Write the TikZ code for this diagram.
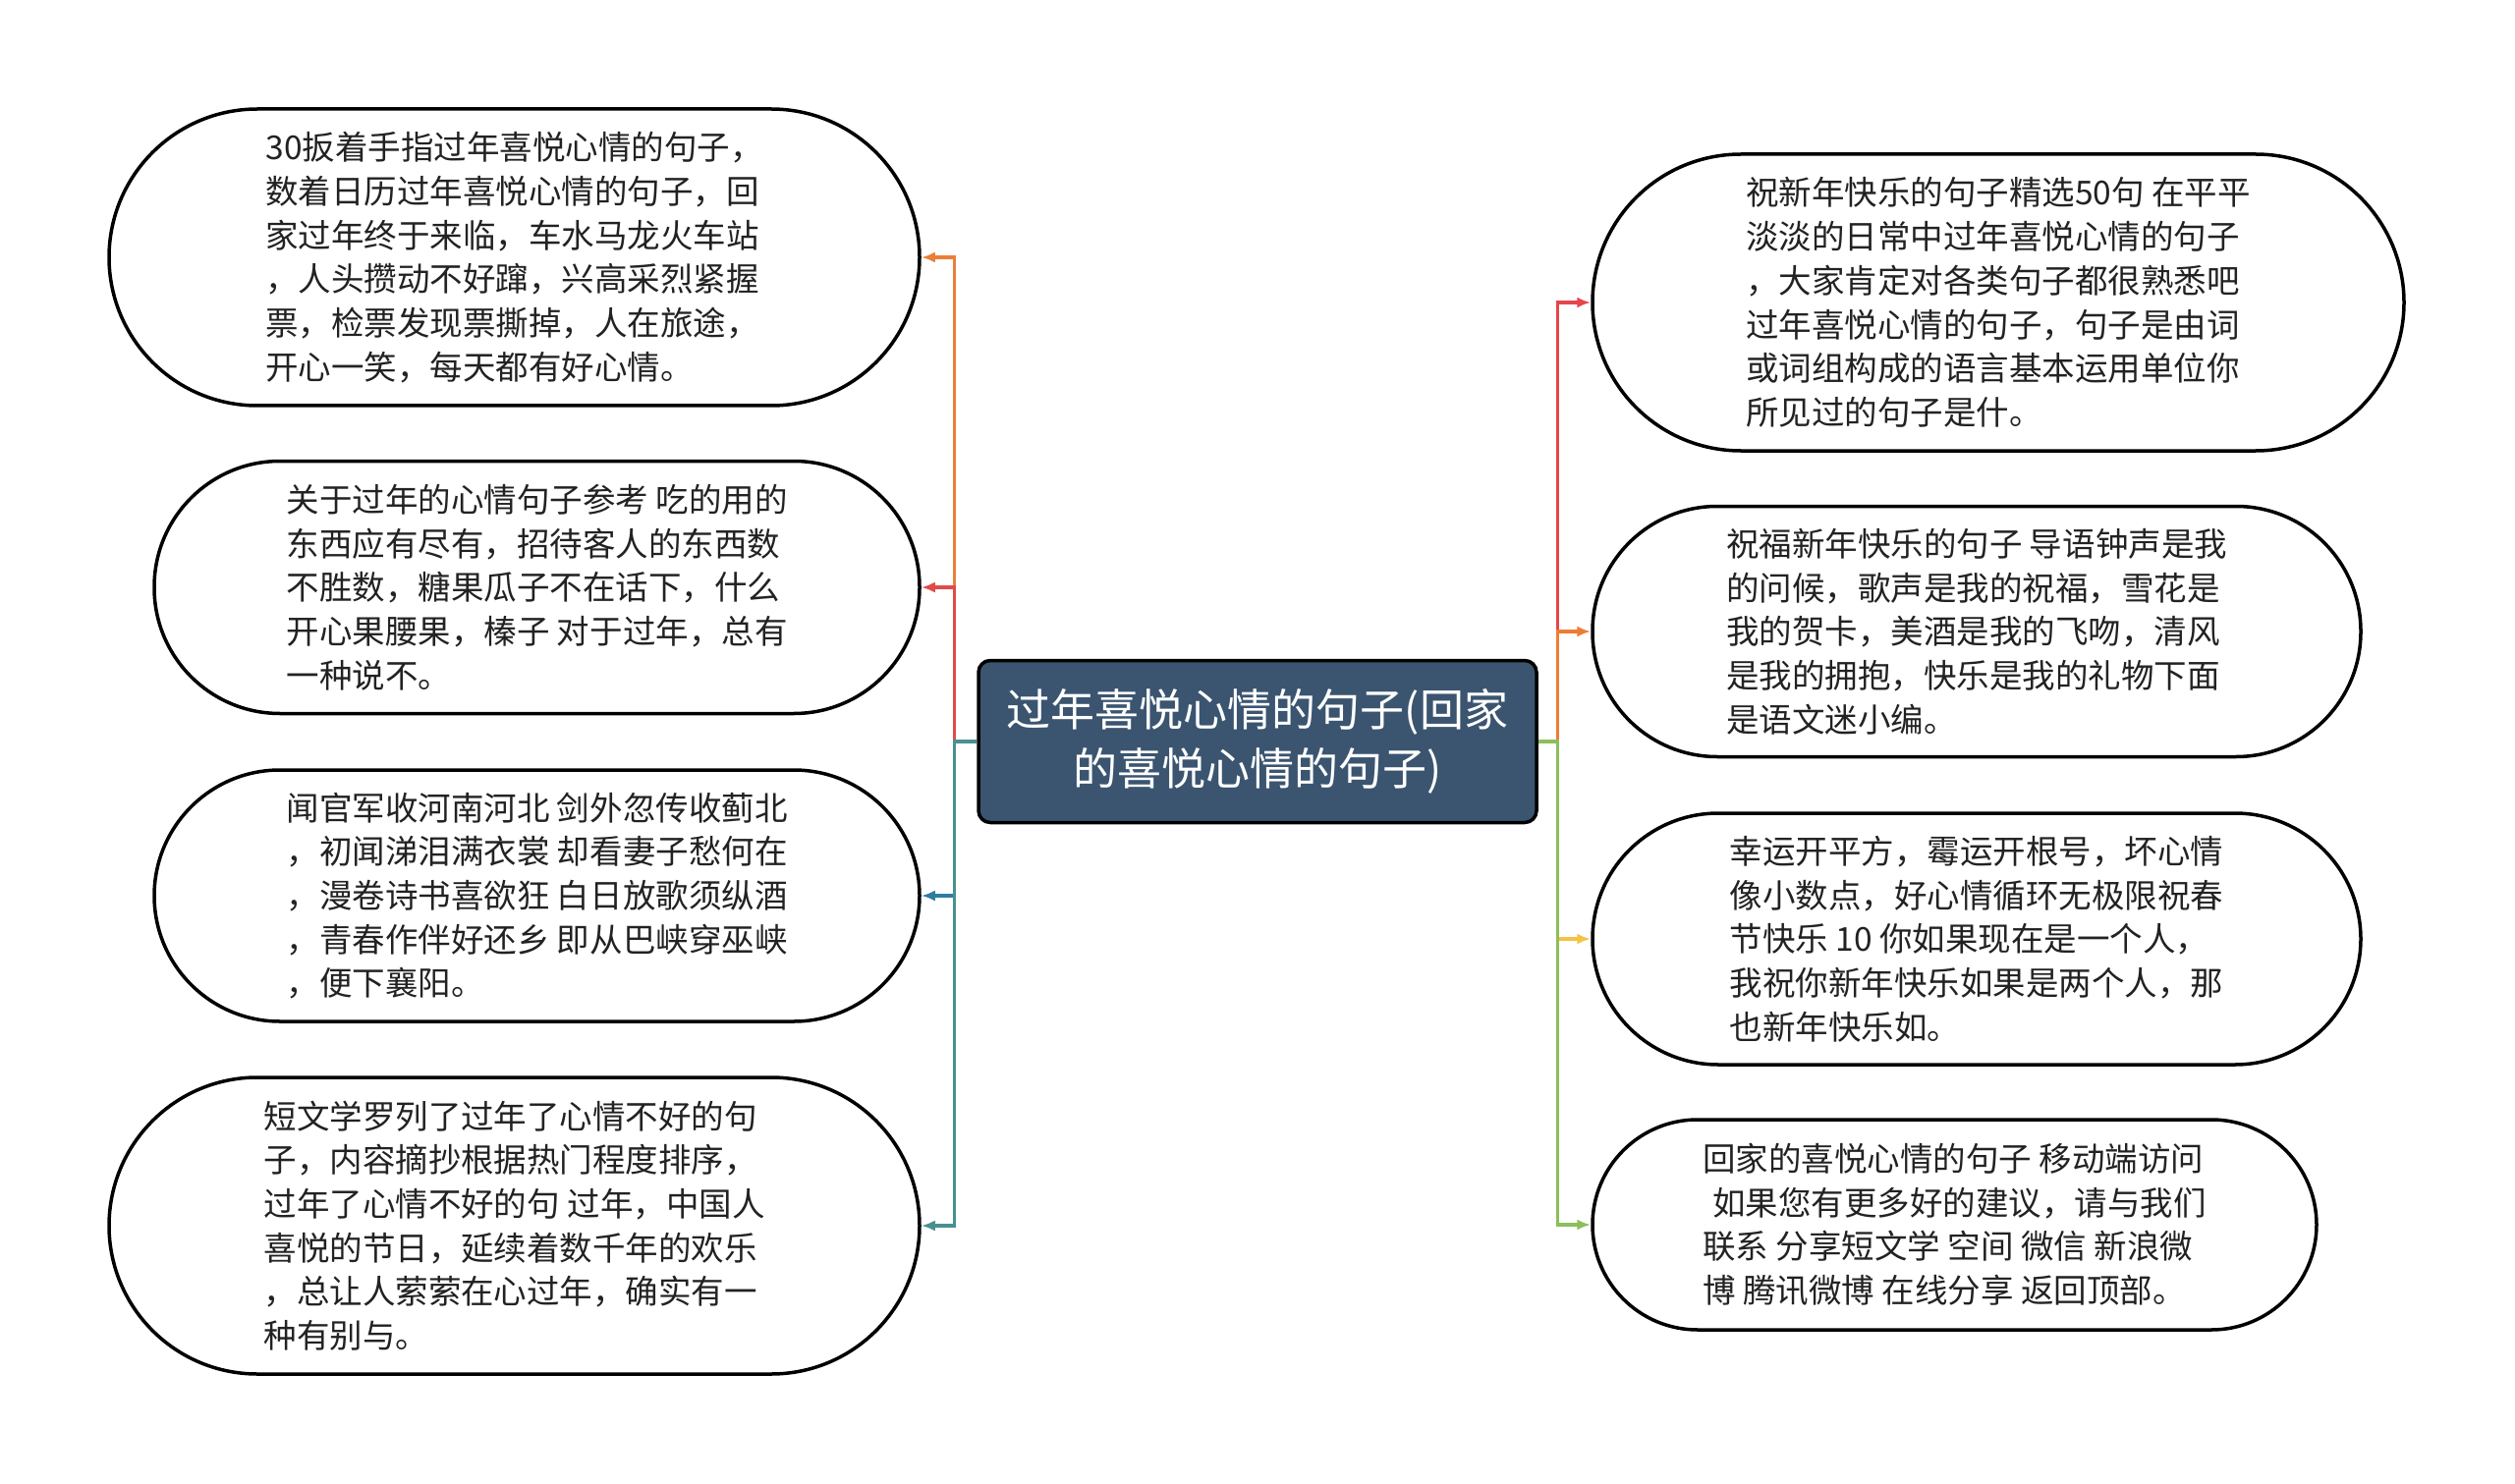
\documentclass[tikz,border=0pt]{standalone}
\usepackage{fontspec}
\setmainfont{Noto Sans CJK SC}
\usetikzlibrary{arrows.meta}
\definecolor{cOrangeL}{HTML}{E8803A}
\definecolor{cRedL}{HTML}{E04B4B}
\definecolor{cBlueL}{HTML}{2E7CA3}
\definecolor{cTealL}{HTML}{4A9090}
\definecolor{cRedR}{HTML}{E5464B}
\definecolor{cOrangeR}{HTML}{EE7D33}
\definecolor{cYellowR}{HTML}{F4C344}
\definecolor{cGreenR}{HTML}{8CBF5C}
\definecolor{cRoot}{HTML}{3B5570}
\definecolor{cText}{HTML}{222222}
\tikzset{
  leafbox/.style={draw=black, line width=3.5pt, fill=white, align=left, inner sep=0pt,
    text=cText, font=\fontsize{33.5}{44.7}\selectfont},
  rootbox/.style={draw=black, line width=3.5pt, fill=cRoot, rounded corners=12pt, align=center,
    text=white, inner sep=0pt, minimum width=568pt, minimum height=165pt,
    font=\fontsize{45}{60}\selectfont},
  conn/.style={line width=3.2pt, -{Latex[length=14pt,width=11pt]}},
  stub/.style={line width=3.2pt}
}
\begin{document}
\begin{tikzpicture}[x=1pt,y=-1pt]
\useasboundingbox (0,0) rectangle (2560,1511);
% root
\node[rootbox] (root) at (1280,755) {过年喜悦心情的句子(回家\\的喜悦心情的句子)};
% left leaves
\node[leafbox, minimum width=825pt, minimum height=302pt, rounded corners=151pt] (l1) at (523.5,262)
 {30扳着手指过年喜悦心情的句子，\\数着日历过年喜悦心情的句子，回\\家过年终于来临，车水马龙火车站\\，人头攒动不好蹿，兴高采烈紧握\\票，检票发现票撕掉，人在旅途，\\开心一笑，每天都有好心情。\hspace*{8pt}};
\node[leafbox, minimum width=779pt, minimum height=257pt, rounded corners=128pt] (l2) at (546.5,598)
 {关于过年的心情句子参考 吃的用的\\东西应有尽有，招待客人的东西数\\不胜数，糖果瓜子不在话下，什么\\开心果腰果，榛子 对于过年，总有\\一种说不。};
\node[leafbox, minimum width=779pt, minimum height=256pt, rounded corners=128pt] (l3) at (546.5,912)
 {闻官军收河南河北 剑外忽传收蓟北\\，初闻涕泪满衣裳 却看妻子愁何在\\，漫卷诗书喜欲狂 白日放歌须纵酒\\，青春作伴好还乡 即从巴峡穿巫峡\\，便下襄阳。};
\node[leafbox, minimum width=825pt, minimum height=302pt, rounded corners=151pt] (l4) at (523.5,1248)
 {短文学罗列了过年了心情不好的句\\子，内容摘抄根据热门程度排序，\\过年了心情不好的句 过年，中国人\\喜悦的节日，延续着数千年的欢乐\\，总让人萦萦在心过年，确实有一\\种有别与。};
% right leaves
\node[leafbox, minimum width=826pt, minimum height=302pt, rounded corners=151pt] (r1) at (2034,308)
 {祝新年快乐的句子精选50句 在平平\\淡淡的日常中过年喜悦心情的句子\\，大家肯定对各类句子都很熟悉吧\\过年喜悦心情的句子，句子是由词\\或词组构成的语言基本运用单位你\\所见过的句子是什。};
\node[leafbox, minimum width=782pt, minimum height=255pt, rounded corners=127pt] (r2) at (2012,643)
 {祝福新年快乐的句子 导语钟声是我\\的问候，歌声是我的祝福，雪花是\\我的贺卡，美酒是我的飞吻，清风\\是我的拥抱，快乐是我的礼物下面\\是语文迷小编。};
\node[leafbox, minimum width=782pt, minimum height=256pt, rounded corners=128pt] (r3) at (2012,956)
 {幸运开平方，霉运开根号，坏心情\\像小数点，好心情循环无极限祝春\\节快乐 10 你如果现在是一个人，\\我祝你新年快乐如果是两个人，那\\也新年快乐如。};
\node[leafbox, minimum width=737pt, minimum height=214pt, rounded corners=107pt] (r4) at (1989.5,1247)
 {回家的喜悦心情的句子 移动端访问\\\hspace*{0.3em}如果您有更多好的建议，请与我们\\联系 分享短文学 空间 微信 新浪微\\博 腾讯微博 在线分享 返回顶部。};
% left connectors
\draw[conn, cOrangeL] (root.west) -- ++(-23,0) |- (l1.east);
\draw[conn, cRedL] (root.west) -- ++(-23,0) |- (l2.east);
\draw[conn, cBlueL] (root.west) -- ++(-23,0) |- (l3.east);
\draw[conn, cTealL] (root.west) -- ++(-23,0) |- (l4.east);
\draw[stub, cTealL] (root.west) -- ++(-23,0);
% right connectors
\draw[conn, cRedR] (root.east) -- ++(20,0) |- (r1.west);
\draw[conn, cOrangeR] (root.east) -- ++(20,0) |- (r2.west);
\draw[conn, cYellowR] (root.east) -- ++(20,0) |- (r3.west);
\draw[conn, cGreenR] (root.east) -- ++(20,0) |- (r4.west);
\draw[stub, cGreenR] (root.east) -- ++(20,0);
\end{tikzpicture}
\end{document}
